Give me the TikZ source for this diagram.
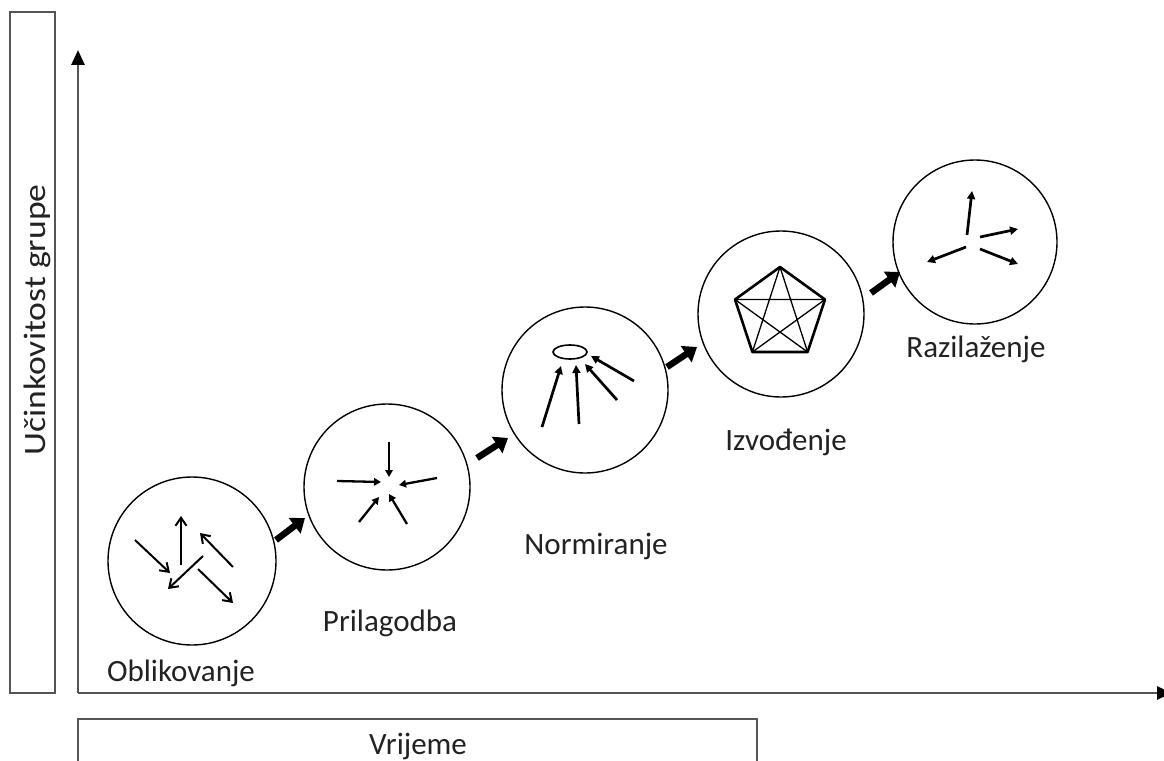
\documentclass[tikz,border=0pt]{standalone}
\usepackage{fontspec}
\setmainfont{Carlito}
\usetikzlibrary{arrows.meta}
\definecolor{axisgray}{HTML}{555555}
\definecolor{txt}{HTML}{222222}
\begin{document}
\begin{tikzpicture}[x=1pt,y=-1pt,
  stage/.style={circle,draw=black,line width=1.4pt,minimum size=166pt,inner sep=0pt},
  lab/.style={font=\fontsize{31}{37}\selectfont,text=txt,anchor=base,inner sep=0pt},
  frame/.style={draw=axisgray,line width=2.4pt},
  axis/.style={draw=axisgray,line width=2.6pt,-{Triangle[length=15pt,width=13pt,color=black]}},
  big/.style={line width=6.5pt,-{Triangle[length=13pt,width=19pt]}},
  barb/.style={line width=2pt,-{Straight Barb[length=8pt,width=11pt,line width=2pt]}},
  sarrow/.style={line width=2.3pt,-{Triangle[length=7pt,width=7.5pt]}},
  marrow/.style={line width=2.7pt,-{Triangle[length=8pt,width=8pt]}}
]
\useasboundingbox (0,0) rectangle (1164,760);

% frames
\node[frame,minimum width=45pt,minimum height=681pt,inner sep=0pt] (ybox) at (32.5,352.5) {};
\node[lab,rotate=90] (ylab) at (45,320) {\scalebox{1.15}[1]{Učinkovitost grupe}};
\node[frame,minimum width=679pt,minimum height=60pt,inner sep=0pt] (xbox) at (417.5,749) {};
\node[lab] (xlab) at (418,754) {Vrijeme};

% axes
\coordinate (o) at (78,693);
\coordinate (ytip) at (78,50);
\coordinate (xtip) at (1172,693);
\draw[axis] (o) -- (ytip);
\draw[axis] (o) -- (xtip);

% stages
\node[stage,minimum size=168pt] (s1) at (192,561) {};
\node[stage] (s2) at (387,487) {};
\node[stage] (s3) at (585,390) {};
\node[stage] (s4) at (781,314) {};
\node[stage,minimum size=164pt] (s5) at (975,242) {};

% labels
\node[lab] (l1) at (181,681) {Oblikovanje};
\node[lab] (l2) at (390,631) {Prilagodba};
\node[lab] (l3) at (596,554) {Normiranje};
\node[lab] (l4) at (786,450) {Izvođenje};
\node[lab] (l5) at (976,357) {Razilaženje};

% big arrows
\coordinate (g1s) at (276,540); \coordinate (g1e) at (305,518);
\coordinate (g2s) at (477,458); \coordinate (g2e) at (508,438);
\coordinate (g3s) at (667,367); \coordinate (g3e) at (697,347);
\coordinate (g4s) at (871,293); \coordinate (g4e) at (900,272);
\draw[big] (g1s) -- (g1e);
\draw[big] (g2s) -- (g2e);
\draw[big] (g3s) -- (g3e);
\draw[big] (g4s) -- (g4e);

% stage 1: random arrows
\draw[barb] (135,540) -- (170,573);
\draw[barb] (181,565) -- (181,516);
\draw[barb] (233,567) -- (200,533);
\draw[barb] (203,556) -- (168,589);
\draw[barb] (198,569) -- (233,603);

% stage 2: converging arrows
\draw[sarrow] (389,442) -- (389,477);
\draw[sarrow] (337,481) -- (381,482);
\draw[sarrow] (437,478) -- (399,485);
\draw[sarrow] (359,522) -- (379,497);
\draw[sarrow] (407,524) -- (389,494);

% stage 3: arrows towards an ellipse
\draw[line width=1.6pt] (570,352) ellipse [x radius=17pt, y radius=7pt];
\draw[marrow] (542,427) -- (561,366);
\draw[marrow] (579,424) -- (576,365);
\draw[marrow] (617,400) -- (585,364);
\draw[marrow] (634,381) -- (591,356);

% stage 4: pentagon with star
\coordinate (pa) at (780,267);
\coordinate (pb) at (825,299.5);
\coordinate (pc) at (807.6,352);
\coordinate (pd) at (752.4,352);
\coordinate (pe) at (735,299.5);
\draw[line width=2.6pt,line join=round] (pa) -- (pb) -- (pc) -- (pd) -- (pe) -- cycle;
\draw[line width=1.3pt] (pa) -- (pc) (pa) -- (pd) (pb) -- (pd) (pb) -- (pe) (pc) -- (pe);

% stage 5: diverging arrows
\draw[marrow] (967,235) -- (972,191);
\draw[marrow] (980,237) -- (1018,229);
\draw[marrow] (980,249) -- (1018,264);
\draw[marrow] (966,247) -- (927,262);
\end{tikzpicture}
\end{document}
